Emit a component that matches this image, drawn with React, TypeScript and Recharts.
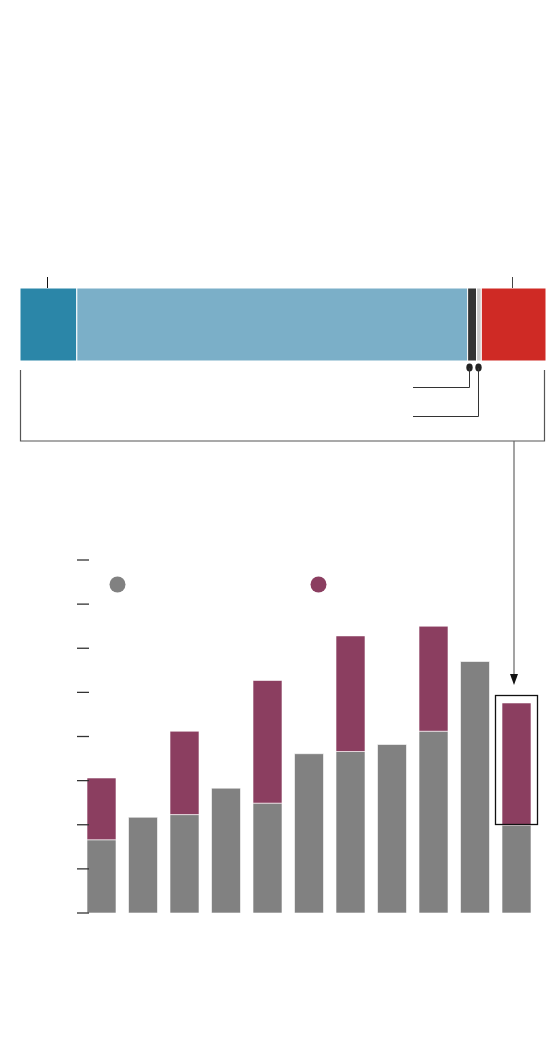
import React from "react";
import { BarChart, Bar, XAxis, YAxis } from "recharts";

// top share bar (percent of total)
const shareKeys = ["a", "b", "c", "d", "e"];
const shareValues = [10.8, 74.3, 1.7, 0.9, 12.3];
const shareColors = ["#2b86a8", "#7bafc8", "#333333", "#c9c9c9", "#cf2a25"];

// bottom stacked bars
const categories = ["1", "2", "3", "4", "5", "6", "7", "8", "9", "10", "11"];
const baseValues = [16.6, 21.7, 22.3, 28.3, 24.9, 36.1, 36.6, 38.2, 41.2, 57.0, 19.9];
const extraValues = [14.0, 0, 18.9, 0, 27.8, 0, 26.2, 0, 23.8, 0, 27.7];
const yTicks = [0, 10, 20, 30, 40, 50, 60, 70, 80];

const shareRow: Record<string, number | string> = { name: "total" };
shareKeys.forEach((k, i) => (shareRow[k] = shareValues[i]));
const shareData = [shareRow];

const barData = categories.map((c, i) => ({
  name: c,
  base: baseValues[i],
  extra: extraValues[i],
}));

const NoTick = () => <g />;

export default function App() {
  return (
    <div style={{ position: "absolute", left: 0, top: 0, width: 560, height: 1052, background: "#fff" }}>
      <div style={{ position: "absolute", left: 0, top: 0 }}>
        <BarChart
          width={560}
          height={361}
          data={shareData}
          layout="vertical"
          margin={{ top: 288, right: 14, bottom: 0, left: 20 }}
          barCategoryGap={0}
        >
          <XAxis type="number" hide domain={[0, 100]} />
          <YAxis type="category" dataKey="name" hide width={0} />
          {shareKeys.map((k, i) => (
            <Bar
              key={k}
              dataKey={k}
              stackId="s"
              fill={shareColors[i]}
              stroke="#ffffff"
              strokeWidth={1}
              isAnimationActive={false}
            />
          ))}
        </BarChart>
      </div>
      <div style={{ position: "absolute", left: 0, top: 0 }}>
        <BarChart
          width={560}
          height={1052}
          data={barData}
          margin={{ top: 560, right: 21, bottom: 139, left: 77 }}
          barSize={29}
        >
          <XAxis
            dataKey="name"
            height={0}
            tick={false}
            tickLine={false}
            axisLine={{ stroke: "#444", strokeWidth: 1.5 }}
            padding={{ left: 4, right: 1.5 }}
          />
          <YAxis
            mirror
            width={12}
            domain={[0, 80]}
            ticks={yTicks}
            axisLine={false}
            tickSize={12}
            tickLine={{ stroke: "#333", strokeWidth: 1.3 }}
            tick={NoTick}
          />
          <Bar
            dataKey="base"
            stackId="v"
            fill="#818181"
            stroke="#ffffff"
            strokeOpacity={0.6}
            strokeWidth={1}
            isAnimationActive={false}
          />
          <Bar
            dataKey="extra"
            stackId="v"
            fill="#8b3e60"
            stroke="#ffffff"
            strokeOpacity={0.6}
            strokeWidth={1}
            isAnimationActive={false}
          />
        </BarChart>
      </div>
      <svg
        width={560}
        height={1052}
        style={{ position: "absolute", left: 0, top: 0, pointerEvents: "none" }}
      >
        <defs>
          <marker id="arr" markerWidth="8" markerHeight="10" refX="4" refY="10" orient="auto" markerUnits="userSpaceOnUse">
            <path d="M0,0 L8,0 L4,10 Z" fill="#111" transform="rotate(-90 4 5)" />
          </marker>
        </defs>
        {/* ticks above share bar */}
        <line x1={47.5} y1={277} x2={47.5} y2={288} stroke="#111" strokeWidth={1} />
        <line x1={512.5} y1={277} x2={512.5} y2={288} stroke="#444" strokeWidth={1} />
        {/* small pointers */}
        <ellipse cx={469.5} cy={367.5} rx={3.2} ry={4} fill="#222" />
        <ellipse cx={478.5} cy={367.5} rx={3.2} ry={4} fill="#222" />
        <polyline points="469.5,368 469.5,387.5 413,387.5" fill="none" stroke="#333" strokeWidth={1} />
        <polyline points="478.5,368 478.5,416.5 413,416.5" fill="none" stroke="#333" strokeWidth={1} />
        {/* bracket */}
        <polyline points="20.5,370 20.5,441 544.5,441 544.5,370" fill="none" stroke="#555" strokeWidth={1.2} />
        {/* arrow */}
        <line x1={514} y1={441} x2={514} y2={675} stroke="#666" strokeWidth={1.2} />
        <path d="M510,674 L518,674 L514,685 Z" fill="#111" />
        {/* highlight */}
        <rect x={495.5} y={695.5} width={42} height={129} fill="none" stroke="#111" strokeWidth={1.3} />
        {/* legend */}
        <circle cx={117.5} cy={584.5} r={8} fill="#818181" />
        <circle cx={318.5} cy={584.5} r={8} fill="#8b3e60" />
      </svg>
    </div>
  );
}
